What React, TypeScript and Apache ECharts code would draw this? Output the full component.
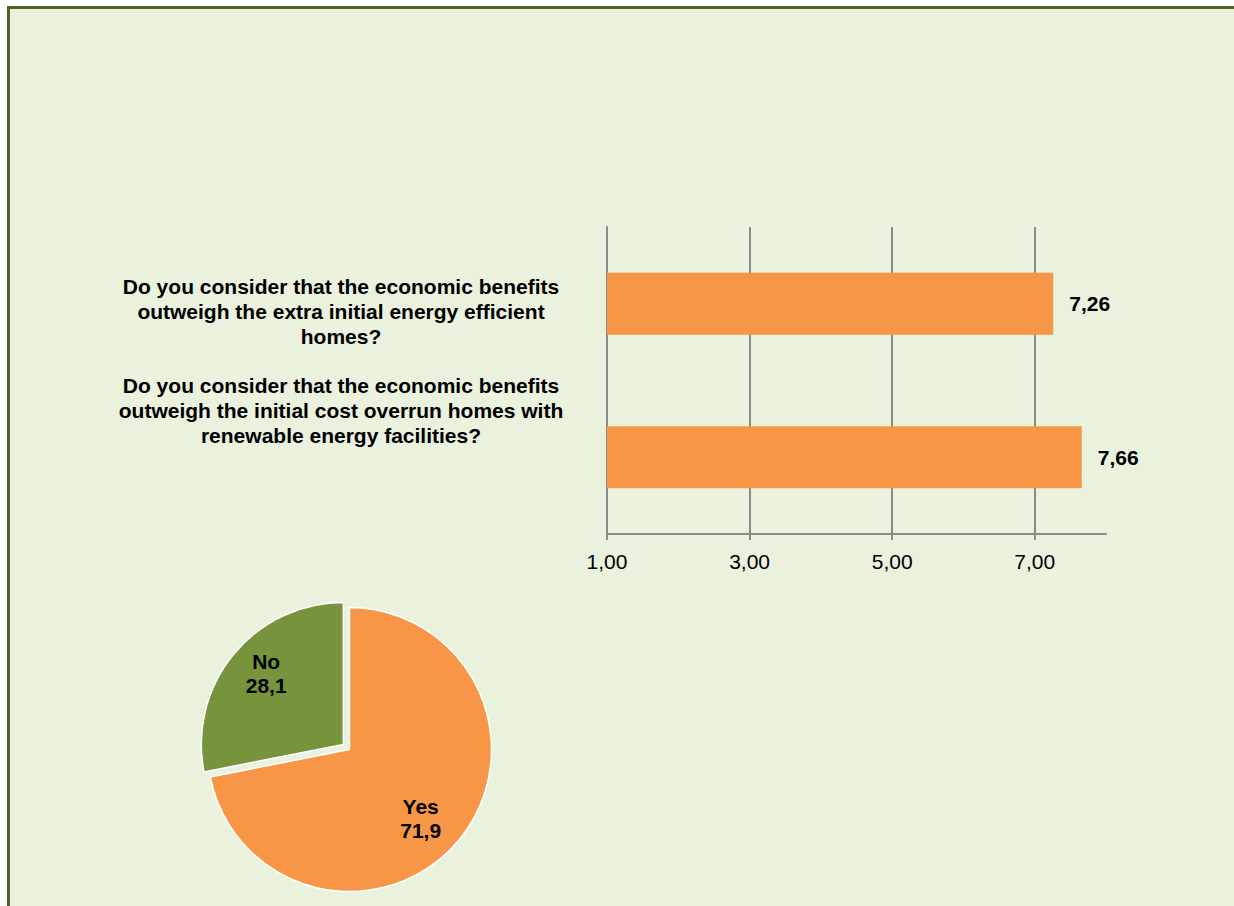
import React, { useEffect, useRef } from 'react';
import * as echarts from 'echarts';

// ---- data ----
const categories: string[] = [
  'Do you consider that the economic benefits\noutweigh the extra initial energy efficient\nhomes?',
  'Do you consider that the economic benefits\noutweigh the initial cost overrun homes with\nrenewable energy facilities?',
];
const barValues: number[] = [7.26, 7.66];
const axisTickValues: number[] = [1, 3, 5, 7];
const pieNames: string[] = ['Yes', 'No'];
const pieValues: number[] = [71.9, 28.1];

// ---- styles ----
const FONT = "'Liberation Sans', Arial, Helvetica, sans-serif";
const FS = 21;
const GRAY = '#8a8a8a';
const ORANGE = '#F79646';
const GREEN = '#77933C';
const pieColors = [ORANGE, GREEN];
const categoryLabelY = [311, 410];

const fmt = (v: number, d: number) => Number(v).toFixed(d).replace('.', ',');

export default function App() {
  const ref = useRef<HTMLDivElement>(null);

  useEffect(() => {
    if (!ref.current) return;
    const chart = echarts.init(ref.current, null, { renderer: 'svg' });
    const lineStyle = { color: GRAY, width: 2 };
    const option: any = {
      animation: false,
      backgroundColor: '#ffffff',
      textStyle: { fontFamily: FONT },
      graphic: [
        {
          type: 'rect',
          z: -10,
          silent: true,
          shape: { x: 8.5, y: 7.5, width: 1300, height: 1000 },
          style: { fill: '#EAF1DD', stroke: '#4F6228', lineWidth: 3 },
        },
        ...categories.map((c, i) => ({
          type: 'text',
          x: 341,
          y: categoryLabelY[i],
          silent: true,
          style: {
            text: c,
            fill: '#000',
            fontFamily: FONT,
            fontSize: FS,
            fontWeight: 'bold',
            align: 'center',
            verticalAlign: 'middle',
            lineHeight: 25,
          },
        })),
      ],
      grid: { left: 607, right: 128, top: 227, bottom: 372, containLabel: false },
      xAxis: {
        type: 'value',
        min: 1,
        max: 8,
        axisLine: { show: true, lineStyle },
        axisTick: { show: true, length: 6, customValues: axisTickValues, lineStyle },
        axisLabel: {
          customValues: axisTickValues,
          formatter: (v: number) => fmt(v, 2),
          fontSize: FS,
          color: '#000',
          margin: 17,
          fontFamily: FONT,
        },
        splitLine: { show: true, lineStyle },
      },
      yAxis: {
        type: 'category',
        data: categories,
        inverse: true,
        axisLine: { show: true, lineStyle },
        axisTick: { show: false },
        axisLabel: { show: false },
        splitLine: { show: false },
      },
      series: [
        {
          type: 'bar',
          data: barValues,
          barWidth: 62,
          z: 3,
          itemStyle: { color: ORANGE },
          label: {
            show: true,
            position: 'right',
            distance: 16,
            formatter: (p: any) => fmt(p.value, 2),
            fontSize: FS,
            fontWeight: 'bold',
            color: '#000',
            fontFamily: FONT,
          },
        },
        {
          type: 'pie',
          center: [349.5, 749.5],
          radius: 142,
          startAngle: 90,
          clockwise: true,
          selectedMode: 'single',
          selectedOffset: 8,
          emphasis: { disabled: true },
          itemStyle: { borderColor: '#ffffff', borderWidth: 1.5 },
          label: {
            show: true,
            position: 'inside',
            formatter: (p: any) => `${p.name}\n${fmt(p.value, 1)}`,
            fontSize: FS,
            fontWeight: 'bold',
            color: '#000',
            lineHeight: 24,
            fontFamily: FONT,
          },
          labelLine: { show: false },
          labelLayout: (p: any) =>
            p.dataIndex === 0 ? { dx: 14, dy: 22 } : { dx: -20, dy: -24 },
          data: pieNames.map((n, i) => ({
            name: n,
            value: pieValues[i],
            selected: i === 1,
            itemStyle: { color: pieColors[i] },
            select: { itemStyle: { color: pieColors[i], borderColor: '#ffffff', borderWidth: 1.5 } },
          })),
        },
      ],
    };
    chart.setOption(option);
    return () => chart.dispose();
  }, []);

  return (
    <div
      ref={ref}
      style={{ position: 'fixed', left: 0, top: 0, width: 1234, height: 906 }}
    />
  );
}
